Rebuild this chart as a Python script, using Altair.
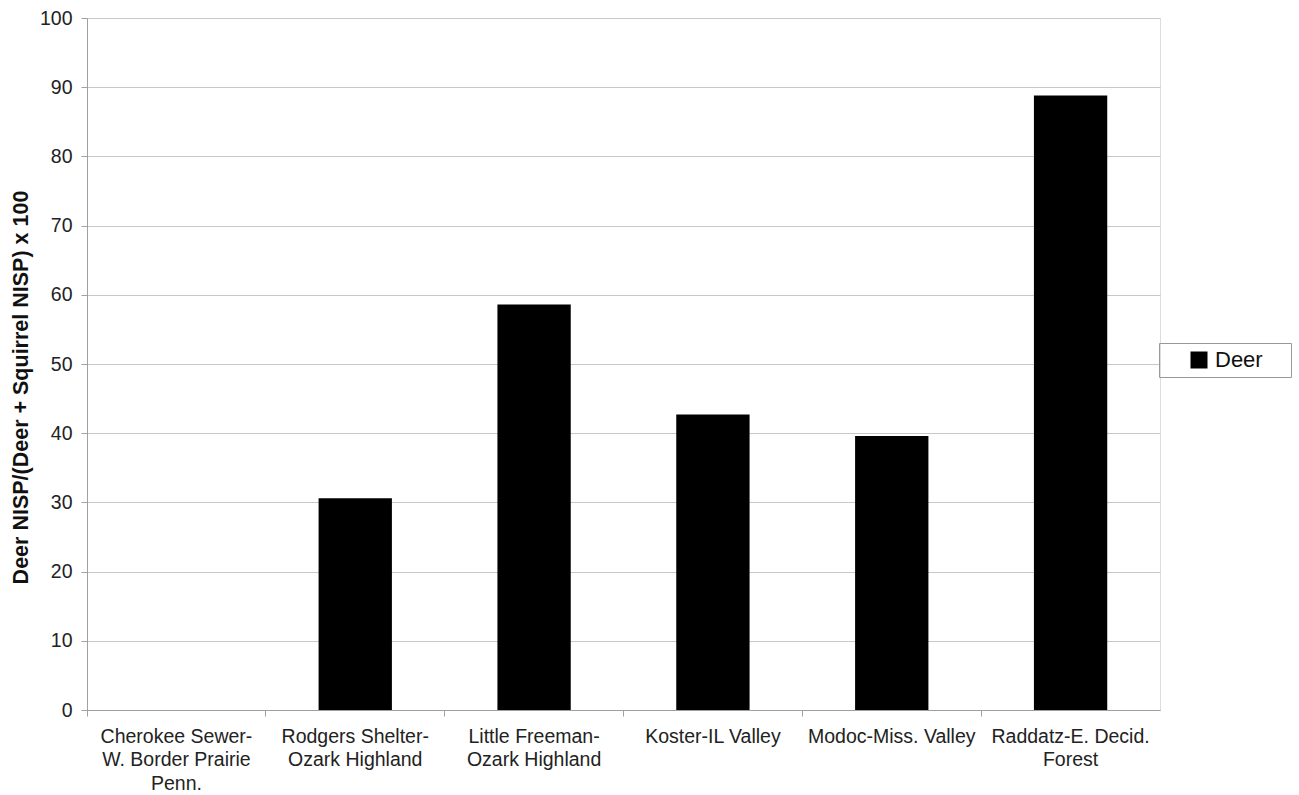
import altair as alt
import pandas as pd

# Sites (with line breaks marked by "|") and deer index values
sites = [
    "Cherokee Sewer-|W. Border Prairie|Penn.",
    "Rodgers Shelter-|Ozark Highland",
    "Little Freeman-|Ozark Highland",
    "Koster-IL Valley",
    "Modoc-Miss. Valley",
    "Raddatz-E. Decid.|Forest",
]
deer_index = [0.0, 30.6, 58.6, 42.7, 39.6, 88.8]
series = ["Deer"] * len(sites)

df = pd.DataFrame({"site": sites, "value": deer_index, "series": series})

FONT = "Liberation Sans"
GRID = "#c8c8c8"
AXIS = "#a0a0a0"

chart = (
    alt.Chart(df)
    .mark_bar(width=alt.RelativeBandSize(0.41))
    .encode(
        x=alt.X(
            "site:N",
            sort=sites,
            scale=alt.Scale(paddingInner=0, paddingOuter=0),
            axis=alt.Axis(
                title=None,
                labelAngle=0,
                labelExpr="split(datum.label, '|')",
                labelFontSize=19.5,
                labelLineHeight=23.5,
                labelColor="#222",
                labelFont=FONT,
                labelPadding=11,
                labelLimit=400,
                bandPosition=0,
                tickSize=6,
                tickColor=AXIS,
                domainColor=AXIS,
                grid=False,
            ),
        ),
        y=alt.Y(
            "value:Q",
            scale=alt.Scale(domain=[0, 100], nice=False),
            axis=alt.Axis(
                title="Deer NISP/(Deer + Squirrel NISP) x 100",
                titleFont=FONT,
                titleFontSize=21.5,
                titleFontWeight="bold",
                titleColor="#111",
                titlePadding=7,
                titleY=369,
                values=list(range(0, 101, 10)),
                labelFontSize=19.5,
                labelFont=FONT,
                labelColor="#222",
                labelPadding=9,
                tickSize=6,
                tickColor=AXIS,
                domainColor=AXIS,
                gridColor=GRID,
                gridWidth=1.2,
            ),
        ),
        color=alt.Color(
            "series:N",
            scale=alt.Scale(range=["#000000"]),
            legend=alt.Legend(
                title="\u00a0",
                titleOrient="right",
                titleFontSize=22,
                titlePadding=22,
                orient="none",
                legendX=1072,
                legendY=325,
                strokeColor="#999",
                padding=6,
                symbolType="square",
                symbolSize=289,
                symbolStrokeWidth=0,
                symbolOffset=23,
                labelFontSize=22,
                labelFont=FONT,
                labelColor="#111",
                labelOffset=5,
            ),
        ),
    )
    .properties(
        width=1073,
        height=692,
        autosize=alt.AutoSizeParams(type="none"),
        padding={"left": 87, "top": 18, "right": 139, "bottom": 85},
    )
    .configure_view(stroke=None)
    .configure(background="white")
)

chart.save("out.html", embed_options={"renderer": "svg", "actions": False})
